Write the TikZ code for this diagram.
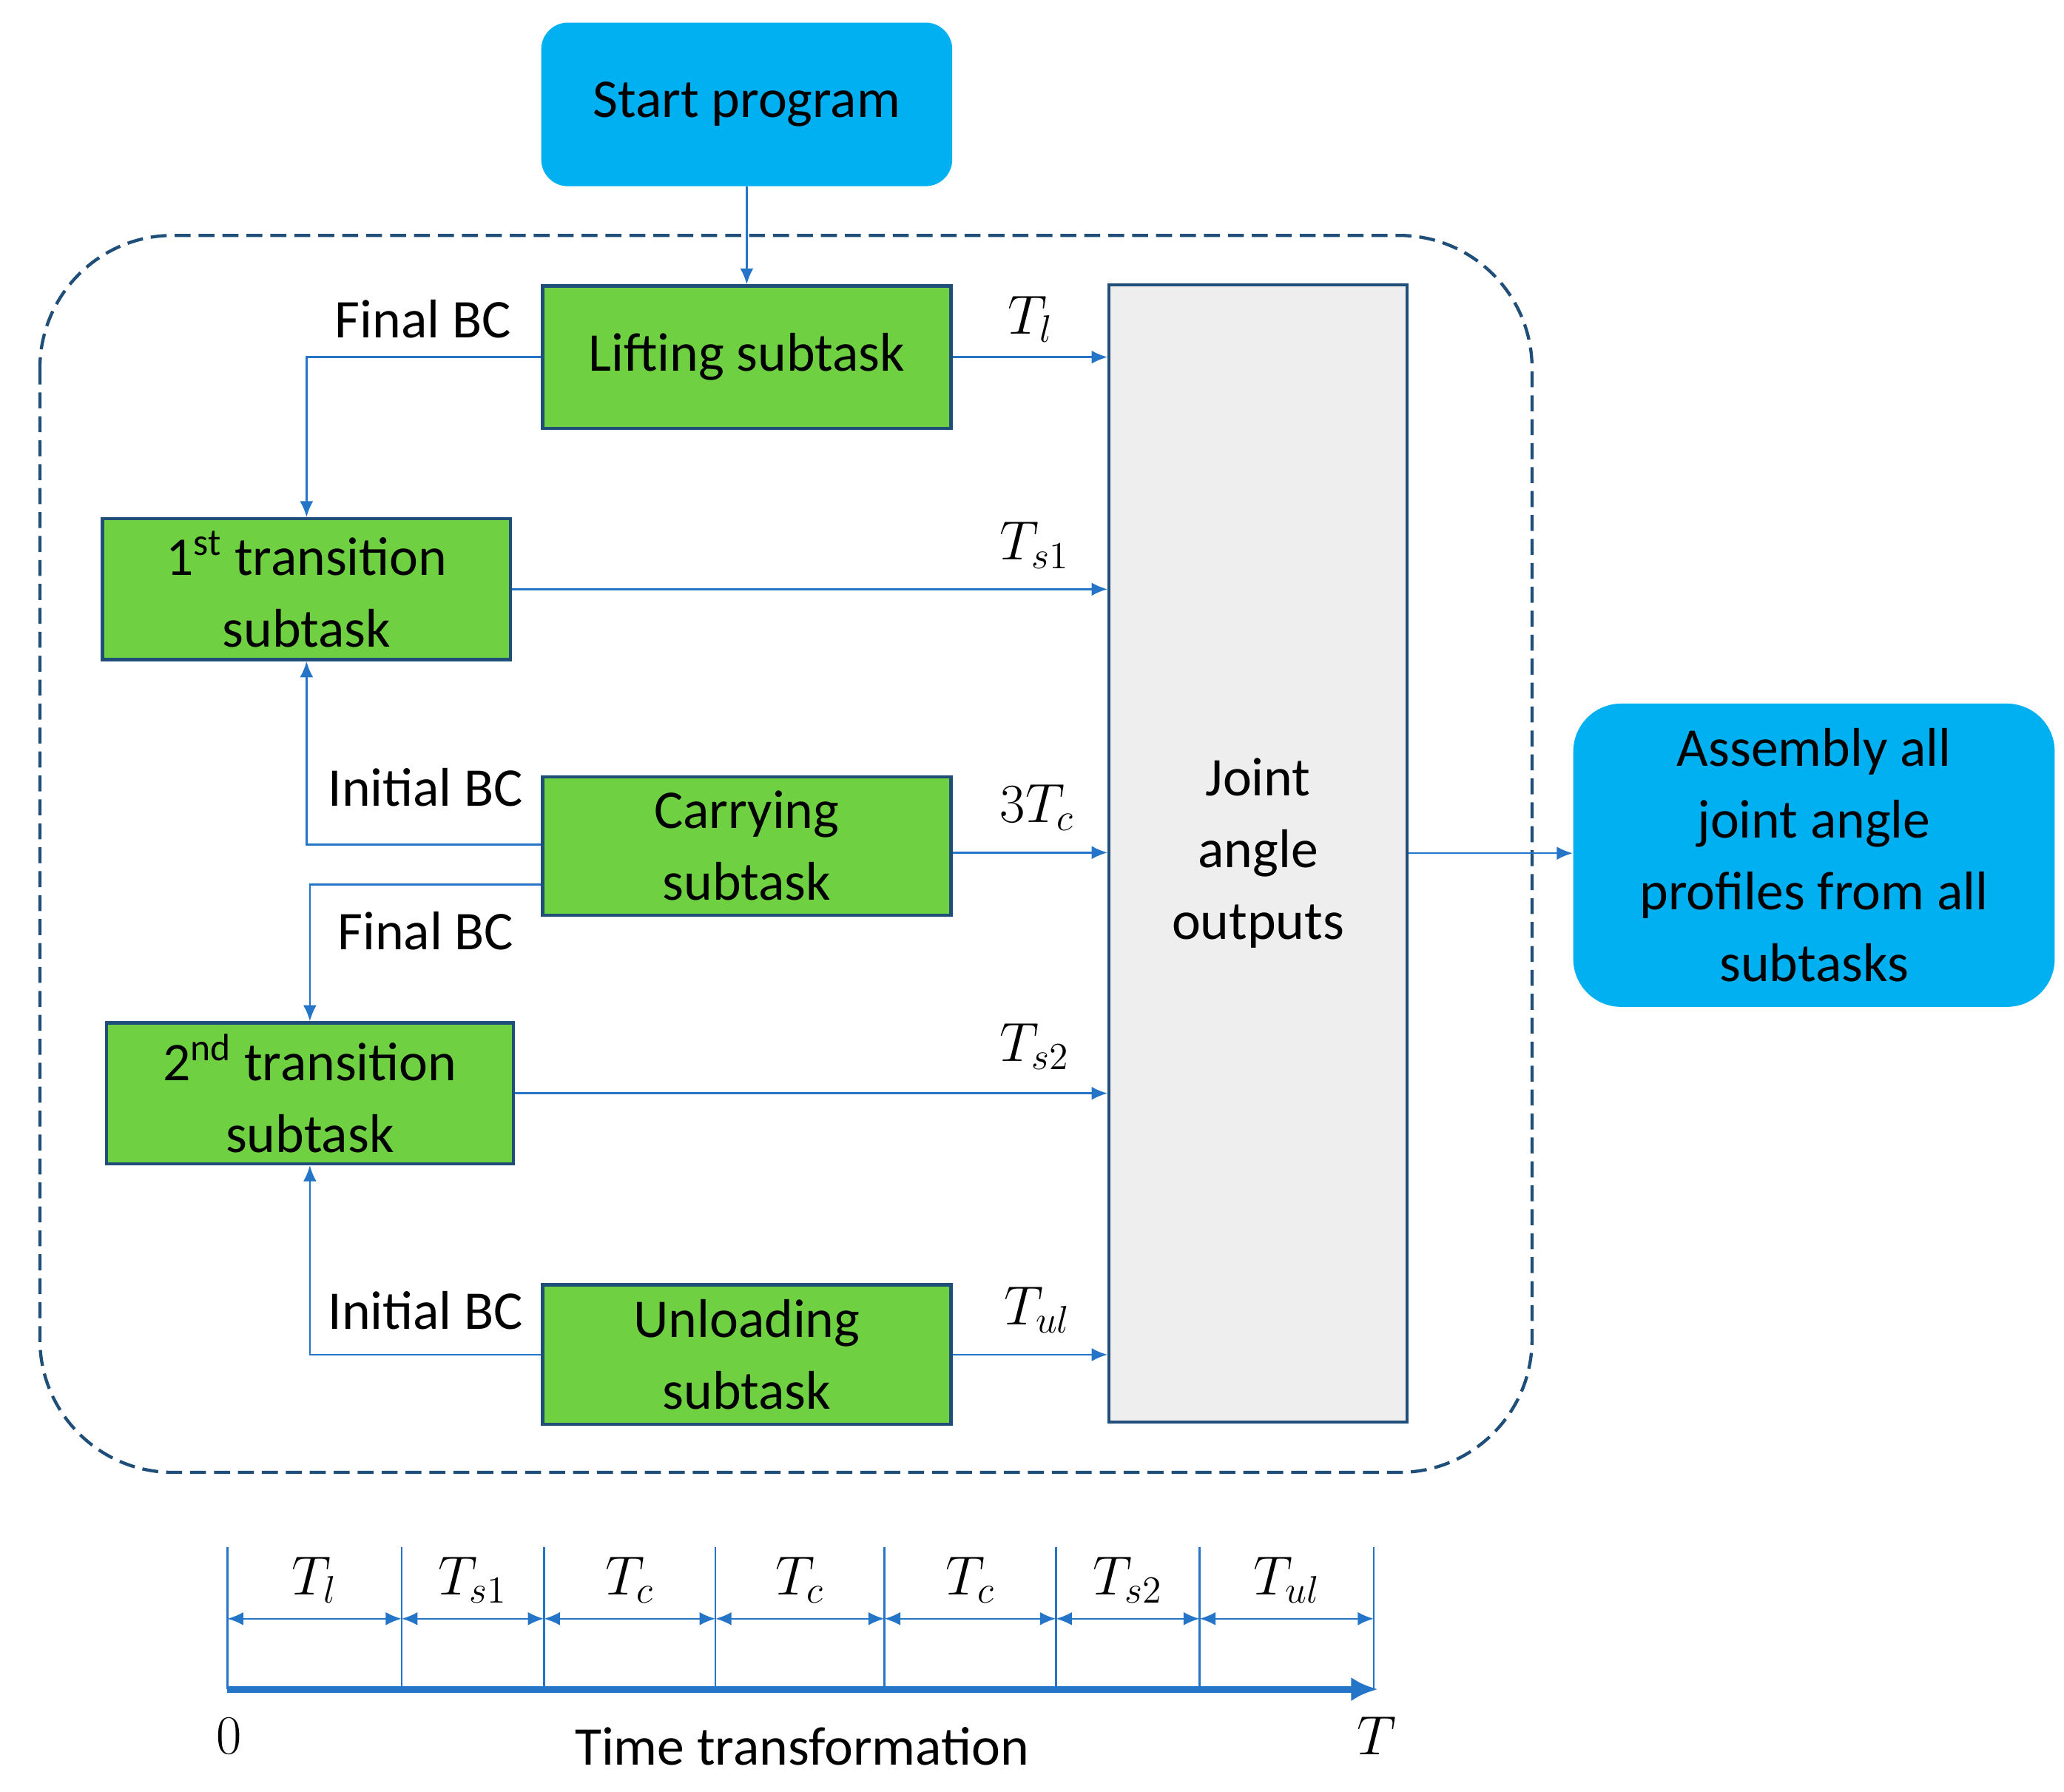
\documentclass[tikz,border=0pt]{standalone}
\usepackage{fontspec}
\setmainfont{Carlito}
\usetikzlibrary{arrows.meta,calc}
\definecolor{cy}{HTML}{00B0F0}
\definecolor{gr}{HTML}{6FD142}
\definecolor{bd}{HTML}{1F4E79}
\definecolor{ar}{HTML}{2474C8}
\begin{document}
\begin{tikzpicture}[x=0.5pt,y=-0.5pt,
  txt/.style={font=\fontsize{20.5}{27}\selectfont},
  box/.style={draw=bd,line width=1.2pt,fill=gr,align=center,inner sep=0pt,txt},
  cbox/.style={fill=cy,rounded corners=10pt,align=center,inner sep=0pt,txt},
  con/.style={draw=ar,line width=0.7pt,-{Latex[length=6pt,width=5pt]}},
  ml/.style={font=\fontsize{22}{26}\selectfont}]
\useasboundingbox (0,0) rectangle (1552,1347);
\draw[bd,dash pattern=on 6pt off 3pt,line width=1.2pt,rounded corners=50pt] (30,177) rectangle (1152,1107);
\node[cbox,minimum width=154.5pt,minimum height=61.5pt] (start) at (561.5,78.5) {Start program};
\node[box,minimum width=153.5pt,minimum height=53.5pt] (lift) at (561.5,268.5) {Lifting subtask};
\node[box,minimum width=153.5pt,minimum height=53pt] (tr1) at (230.5,443) {1\textsuperscript{st} transition\\subtask};
\node[box,minimum width=153.5pt,minimum height=52pt] (carry) at (561.5,636) {Carrying\\subtask};
\node[box,minimum width=153pt,minimum height=53pt] (tr2) at (233,822) {2\textsuperscript{nd} transition\\subtask};
\node[box,minimum width=153.5pt,minimum height=52.5pt] (unl) at (561.5,1018.5) {Unloading\\subtask};
\node[box,fill={rgb,255:red,238;green,238;blue,238},minimum width=112pt,minimum height=427.5pt] (joint) at (946,641.5) {Joint\\angle\\outputs};
\node[cbox,minimum width=181pt,minimum height=114pt,rounded corners=18pt] (asm) at (1364,643) {Assembly all\\joint angle\\profiles from all\\subtasks};
\draw[con] (start) -- (lift);
\draw[con] (lift.west) -| (tr1.north);
\draw[con] ($(carry.west)+(0,0.5pt)$) -| (tr1.south);
\draw[con] ($(carry.west)+(0,-14.5pt)$) -| (tr2.north);
\draw[con] (unl.west) -| (tr2.south);
\node[txt] (l1) at (318,240) {Final BC};
\node[txt] (l2) at (320,592) {Initial BC};
\node[txt] (l3) at (320,700) {Final BC};
\node[txt] (l4) at (320,985) {Initial BC};
\draw[con] (lift.east) -- (lift.east -| joint.west);
\draw[con] (tr1.east) -- (tr1.east -| joint.west);
\draw[con] ($(carry.east)+(0,-2.5pt)$) -- ($(carry.east -| joint.west)+(0,-2.5pt)$);
\draw[con] (tr2.east) -- (tr2.east -| joint.west);
\draw[con] (unl.east) -- (unl.east -| joint.west);
\draw[con] (joint.east) -- (joint.east -| asm.west);
\node[ml] (m1) at (775,240) {$T_l$};
\node[ml] (m2) at (778,410) {$T_{s1}$};
\node[ml] (m3) at (780,607) {$3T_c$};
\node[ml] (m4) at (778,787) {$T_{s2}$};
\node[ml] (m5) at (780,985) {$T_{ul}$};
% timeline
\foreach \i/\x in {0/171,1/302,2/409,3/538,4/665,5/794,6/902,7/1033}{
  \coordinate (t\i) at (\x,1217);
  \draw[ar,line width=0.7pt] (\x,1163) -- (\x,1270);}
\foreach \a/\b/\l in {0/1/{T_l},1/2/{T_{s1}},2/3/{T_c},3/4/{T_c},4/5/{T_c},5/6/{T_{s2}},6/7/{T_{ul}}}{
  \draw[ar,line width=0.7pt,{Latex[length=6pt,width=5pt]}-{Latex[length=6pt,width=5pt]}] (t\a) -- (t\b);
  \node[ml] at ($(t\a)!0.5!(t\b)+(0,-29)$) {$\l$};}
\coordinate (a0) at (171,1270);
\coordinate (a1) at (1036,1270);
\draw[ar,line width=2.5pt,-{Latex[length=10pt,width=9pt]}] (a0) -- (a1);
\node[ml] (z) at (172,1305) {$0$};
\node[ml] (tt) at (1035,1305) {$T$};
\node[txt] (tl) at (603,1313) {Time transformation};
\end{tikzpicture}
\end{document}
